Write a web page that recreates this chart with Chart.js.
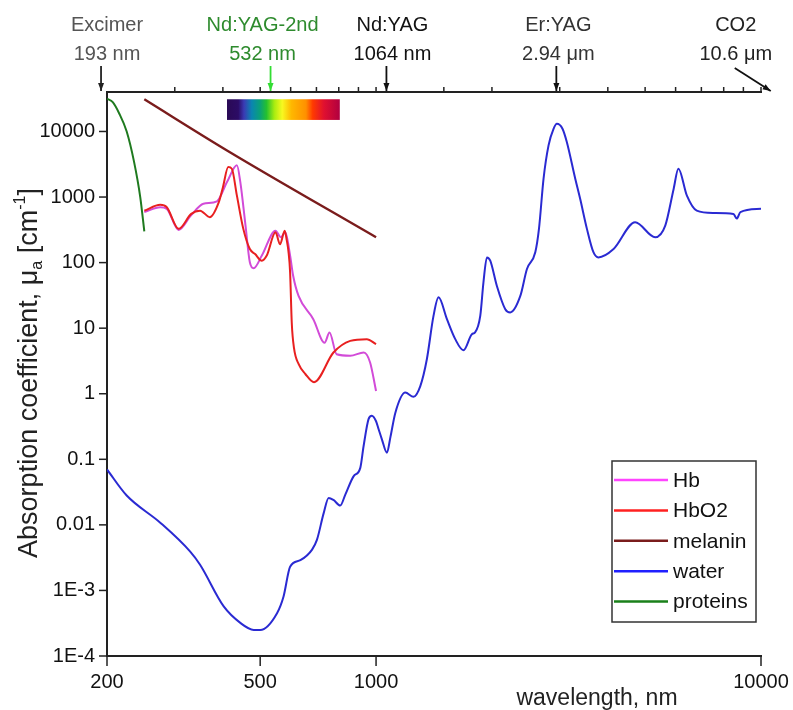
<!DOCTYPE html>
<html><head><meta charset="utf-8">
<script src="https://cdn.jsdelivr.net/npm/chart.js@4"></script>
<style>html,body{margin:0;padding:0;background:#fff}#wrap{width:793px;height:710px}</style>
</head><body><div id="wrap"><canvas id="c" width="793" height="710"></canvas></div>
<script>
// ---------- data ----------
const X_MIN = 200, X_MAX = 10000, Y_MIN = 1e-4, Y_MAX = 4e4;
const xTickLabels = [200, 500, 1000, 10000];
const yTickLabels = ['1E-4', '1E-3', '0.01', '0.1', '1', '10', '100', '1000', '10000'];

const hbNm  = [250,275,286,307,331,356,386,410,435,444,458,470,481,505,548,566,581,598,609,629,687,735,757,790,857,929,965,1000];
const hbVal = [590,700,660,315,530,790,860,1690,3050,1690,367,101,82,128,307,244,290,128,63,31,13.7,6.0,8.6,4.0,3.8,4.25,3.0,1.1];

const hbo2Nm  = [250,275,286,307,331,349,370,390,400,413,422,435,452,470,485,505,520,548,563,579,586,592,598,604,612,630,655,690,775,857,946,1000];
const hbo2Val = [620,760,700,327,553,620,493,820,1400,2860,2700,1050,327,161,135,107,128,290,190,307,220,150,71,12,5,2.8,2.0,1.5,4.25,6.4,6.8,5.7];

const melaninNm  = [250, 410, 1000];
const melaninVal = [31000, 5140, 244];

const waterNm  = [200,225,275,329,349,402,444,481,500,553,575,598,636,682,702,731,753,775,807,832,874,910,928,956,975,1000,1015,1036,1067,1090,1122,1191,1251,1303,1355,1410,1453,1528,1606,1687,1774,1808,1865,1901,1941,1980,2060,2166,2231,2370,2466,2592,2650,2723,2806,2891,2950,3050,3130,3292,3390,3530,3670,3780,4140,4710,5310,5640,5930,6100,6420,6810,7530,8480,8650,8840,10000];
const waterVal = [0.07,0.028,0.0108,0.0039,0.00246,5.7e-4,3.2e-4,2.5e-4,2.5e-4,4.5e-4,8.1e-4,2.3e-3,2.9e-3,4.2e-3,5.9e-3,0.0151,0.0258,0.024,0.0197,0.029,0.055,0.074,0.158,0.41,0.46,0.38,0.29,0.2,0.126,0.22,0.51,1.04,0.90,1.31,3.36,15.4,29.5,13.7,6.8,4.6,8.1,8.6,15.4,50,120,107,44,19.5,17.4,31,80,144,330,1900,6140,11000,13100,11000,6900,1900,940,327,144,120,161,413,244,367,1330,2700,1050,620,570,550,470,590,660];

const proteinNm  = [200,207,215,225,235,244,250];
const proteinVal = [31600,28000,19000,10000,3500,1000,300];

const laserNames = ['Excimer', 'Nd:YAG-2nd', 'Nd:YAG', 'Er:YAG', 'CO2'];
const laserLines = ['193 nm', '532 nm', '1064 nm', '2.94 \u03bcm', '10.6 \u03bcm'];
const laserNm    = [193, 532, 1064, 2940, 10600];

const spectrumNm = [410, 805];
const spectrumVal = [15000, 31000];

// ---------- styles ----------
const FONT = '"Liberation Sans", Arial, sans-serif';
const laserStyle = [
  {text:'#555', arrow:'#222', dx: 6},
  {text:'#2e8b2e', arrow:'#33dd33', dx: -8},
  {text:'#111', arrow:'#111', dx: 6},
  {text:'#333', arrow:'#111', dx: 2},
  {text:'#222', arrow:'#111', dx: -35, diag: true}
];

const zip = (a, b) => a.map((v, i) => ({x: v, y: b[i]}));
const mk = (label, nm, val, color, legendColor, order, w) => ({
  label, data: zip(nm, val), borderColor: color, legendColor, borderWidth: w || 2,
  pointRadius: 0, fill: false, tension: 0.4, cubicInterpolationMode: 'monotone', order
});

const datasets = [
  mk('Hb', hbNm, hbVal, '#d24bd8', '#ff44ff', 1),
  mk('HbO2', hbo2Nm, hbo2Val, '#e82020', '#ff2020', 0),
  mk('melanin', melaninNm, melaninVal, '#7a1c1c', '#7a1c1c', 2, 2.4),
  mk('water', waterNm, waterVal, '#2a2ad2', '#2020ff', 3),
  mk('proteins', proteinNm, proteinVal, '#1f7a1f', '#1a801a', 4)
];

const isDecade = v => { const e = Math.log10(v); return Math.abs(e - Math.round(e)) < 1e-6; };
const near = (v, arr) => arr.some(a => Math.abs(v - a) < 1e-6 * a);

const decorPlugin = {
  id: 'decor',
  beforeDatasetsDraw(chart) {
    const ctx = chart.ctx, xs = chart.scales.x, ys = chart.scales.y;
    // spectrum bar
    const x0 = xs.getPixelForValue(spectrumNm[0]), x1 = xs.getPixelForValue(spectrumNm[1]);
    const y0 = ys.getPixelForValue(spectrumVal[1]), y1 = ys.getPixelForValue(spectrumVal[0]);
    const g = ctx.createLinearGradient(x0, 0, x1, 0);
    const stops = [[0,'#2a0a55'],[0.1,'#2c0c66'],[0.15,'#3a3ab4'],[0.22,'#0a86b0'],[0.29,'#0aa07a'],[0.35,'#25c030'],[0.42,'#a8ec10'],[0.49,'#f8f820'],[0.57,'#ffb800'],[0.7,'#ff9000'],[0.76,'#ff3a00'],[0.86,'#e01030'],[1,'#b00040']];
    stops.forEach(s => g.addColorStop(s[0], s[1]));
    ctx.save();
    ctx.fillStyle = g;
    ctx.fillRect(x0, y0, x1 - x0, y1 - y0);
    ctx.restore();
  },
  afterDraw(chart) {
    const ctx = chart.ctx, xs = chart.scales.x, ys = chart.scales.y, xt = chart.scales.xTop;
    const area = chart.chartArea;
    ctx.save();
    ctx.strokeStyle = '#222';
    ctx.lineWidth = 1.5;
    // y ticks (outward, left)
    ys.ticks.forEach(t => {
      const v = t.value; if (v < Y_MIN || v > Y_MAX) return;
      const p = ys.getPixelForValue(v), L = isDecade(v) ? 8 : 4;
      ctx.beginPath(); ctx.moveTo(area.left, p); ctx.lineTo(area.left - L, p); ctx.stroke();
    });
    // bottom x ticks (outward, down)
    xs.ticks.forEach(t => {
      const v = t.value; if (v < X_MIN || v > X_MAX) return;
      const p = xs.getPixelForValue(v), L = near(v, xTickLabels) ? 10 : 6;
      ctx.beginPath(); ctx.moveTo(p, area.bottom); ctx.lineTo(p, area.bottom + L); ctx.stroke();
    });
    // top ticks (outward, up)
    xt.ticks.forEach(t => {
      const v = t.value; if (v <= X_MIN || v > X_MAX) return;
      const p = xt.getPixelForValue(v);
      ctx.beginPath(); ctx.moveTo(p, area.top); ctx.lineTo(p, area.top - 5); ctx.stroke();
    });

    // laser labels + arrows
    ctx.textAlign = 'center';
    ctx.textBaseline = 'middle';
    ctx.font = '20px ' + FONT;
    laserNm.forEach((nm, i) => {
      const st = laserStyle[i];
      const px = xt.getPixelForValue(nm);
      ctx.fillStyle = st.text;
      ctx.fillText(laserNames[i], px + st.dx, 25);
      ctx.fillText(laserLines[i], px + st.dx, 54);
      ctx.strokeStyle = st.arrow; ctx.fillStyle = st.arrow; ctx.lineWidth = 1.8;
      let sx, sy, ex = px, ey = area.top - 1;
      if (st.diag) { sx = px - 36; sy = 68; } else { sx = px; sy = 66; }
      ctx.beginPath(); ctx.moveTo(sx, sy); ctx.lineTo(ex, ey); ctx.stroke();
      const ang = Math.atan2(ey - sy, ex - sx), hl = 8, hw = 3;
      ctx.beginPath();
      ctx.moveTo(ex, ey);
      ctx.lineTo(ex - hl * Math.cos(ang) + hw * Math.sin(ang), ey - hl * Math.sin(ang) - hw * Math.cos(ang));
      ctx.lineTo(ex - hl * Math.cos(ang) - hw * Math.sin(ang), ey - hl * Math.sin(ang) + hw * Math.cos(ang));
      ctx.closePath(); ctx.fill();
    });

    // y title with sub/superscript
    ctx.save();
    ctx.translate(37, (area.top + area.bottom) / 2 - 1);
    ctx.rotate(-Math.PI / 2);
    ctx.fillStyle = '#222';
    ctx.textAlign = 'left';
    ctx.textBaseline = 'alphabetic';
    const big = '27px ' + FONT, small = '16px ' + FONT;
    const parts = [
      {t: 'Absorption coefficient, \u03bc', f: big, dy: 0},
      {t: 'a', f: small, dy: 5},
      {t: ' [cm', f: big, dy: 0},
      {t: '-1', f: small, dy: -12},
      {t: ']', f: big, dy: 0}
    ];
    let total = 0;
    parts.forEach(p => { ctx.font = p.f; p.w = ctx.measureText(p.t).width; total += p.w; });
    let cx = -total / 2;
    parts.forEach(p => { ctx.font = p.f; ctx.fillText(p.t, cx, p.dy); cx += p.w; });
    ctx.restore();

    // x title
    ctx.fillStyle = '#222';
    ctx.font = '23px ' + FONT;
    ctx.textAlign = 'center';
    ctx.textBaseline = 'alphabetic';
    ctx.fillText('wavelength, nm', 597, 705);

    // legend
    const lx = 612, ly = 461, lw = 144, lh = 161;
    ctx.fillStyle = '#fff';
    ctx.fillRect(lx, ly, lw, lh);
    ctx.strokeStyle = '#333'; ctx.lineWidth = 1.5;
    ctx.strokeRect(lx, ly, lw, lh);
    ctx.font = '21px ' + FONT;
    ctx.textAlign = 'left';
    ctx.textBaseline = 'middle';
    chart.data.datasets.forEach((ds, i) => {
      const ry = 480 + i * 30.4;
      ctx.strokeStyle = ds.legendColor; ctx.lineWidth = 2.5;
      ctx.beginPath(); ctx.moveTo(lx + 2, ry); ctx.lineTo(lx + 56, ry); ctx.stroke();
      ctx.fillStyle = '#111';
      ctx.fillText(ds.label, lx + 61, ry + 1);
    });
    ctx.restore();
  }
};

new Chart(document.getElementById('c'), {
  type: 'line',
  data: { datasets },
  options: {
    responsive: false,
    animation: false,
    devicePixelRatio: 1,
    events: [],
    layout: { padding: { left: 0, right: 32, top: 0, bottom: 0 } },
    plugins: { legend: { display: false }, tooltip: { enabled: false } },
    scales: {
      x: {
        type: 'logarithmic', position: 'bottom', min: X_MIN, max: X_MAX,
        grid: { display: false, drawTicks: false },
        border: { display: true, color: '#222', width: 2 },
        ticks: {
          autoSkip: false, maxRotation: 0, padding: 14, color: '#111',
          font: { size: 20, family: FONT },
          callback: v => near(v, xTickLabels) ? String(Math.round(v)) : null
        },
        afterFit: s => { s.height = 54; s.paddingLeft = 0; s.paddingRight = 0; }
      },
      xTop: {
        type: 'logarithmic', position: 'top', min: X_MIN, max: X_MAX, display: true,
        grid: { display: false, drawTicks: false },
        border: { display: true, color: '#222', width: 2 },
        ticks: { display: false },
        afterFit: s => { s.height = 92; s.paddingLeft = 0; s.paddingRight = 0; }
      },
      y: {
        type: 'logarithmic', position: 'left', min: Y_MIN, max: Y_MAX,
        grid: { display: false, drawTicks: false },
        border: { display: true, color: '#222', width: 2 },
        ticks: {
          autoSkip: false, padding: 12, color: '#111',
          font: { size: 20, family: FONT },
          callback: v => isDecade(v) ? yTickLabels[Math.round(Math.log10(v)) + 4] : null
        },
        afterFit: s => { s.width = 107; s.paddingTop = 0; s.paddingBottom = 0; }
      }
    }
  },
  plugins: [decorPlugin]
});
</script>
</body></html>
